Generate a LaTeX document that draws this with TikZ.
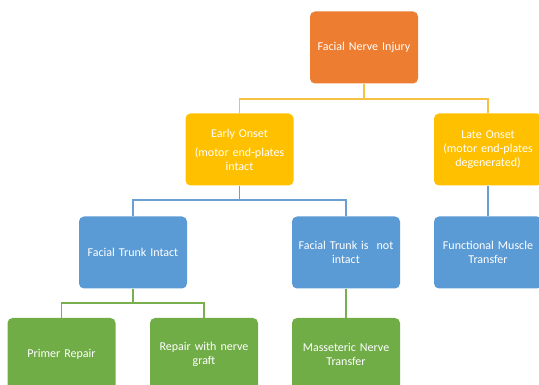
\documentclass[tikz,border=0pt]{standalone}
\usepackage{fontspec}
\setmainfont{Carlito}
\definecolor{cOrange}{HTML}{ED7D31}
\definecolor{cYellow}{HTML}{FFC000}
\definecolor{cBlue}{HTML}{5B9BD5}
\definecolor{cGreen}{HTML}{70AD47}
\definecolor{lYellow}{HTML}{F7C242}
\definecolor{lBlue}{HTML}{6A9FD2}
\definecolor{lGreen}{HTML}{78B050}
\begin{document}
\begin{tikzpicture}[x=1pt,y=-1pt,
  box/.style={rounded corners=5pt, minimum width=108pt, minimum height=72pt,
    text width=104pt, align=center, text=white, inner sep=2pt,
    font=\fontsize{12}{14}\selectfont},
  conn/.style={line width=1.4pt}]
\useasboundingbox (0,0) rectangle (539,385);
\clip (0,0) rectangle (539,385);
\node[box, fill=cOrange] (root) at (364,47.5) {Facial Nerve Injury};
\node[box, fill=cYellow] (early) at (239.5,149.5) {Early Onset\\[5pt](motor end-plates\\intact};
\node[box, fill=cYellow] (late) at (488,149.5) {Late Onset\\(motor end-plates\\degenerated)};
\node[box, fill=cBlue] (intact) at (133,252.5) {Facial Trunk Intact};
\node[box, fill=cBlue] (notintact) at (346,252.5) {Facial Trunk is\ \ not\\intact};
\node[box, fill=cBlue] (fmt) at (488,252.5) {Functional Muscle\\Transfer};
\node[box, fill=cGreen] (primer) at (61.5,354) {Primer Repair};
\node[box, fill=cGreen] (graft) at (204,354) {Repair with nerve\\graft};
\node[box, fill=cGreen] (mass) at (346,354) {Masseteric Nerve\\Transfer};
\coordinate (j1) at (364,99);
\coordinate (j2) at (239.5,200);
\coordinate (j3) at (133,303);
\draw[conn, lYellow] (root.south) -- (j1);
\draw[conn, lYellow] (early.north) |- (j1) -| (late.north);
\draw[conn, lBlue] (early.south) -- (j2);
\draw[conn, lBlue] (intact.north) |- (j2) -| (notintact.north);
\draw[conn, lBlue] (late.south) -- (fmt.north);
\draw[conn, lGreen] (intact.south) -- (j3);
\draw[conn, lGreen] (primer.north) |- (j3) -| (graft.north);
\draw[conn, lGreen] (notintact.south) -- (mass.north);
\end{tikzpicture}
\end{document}
